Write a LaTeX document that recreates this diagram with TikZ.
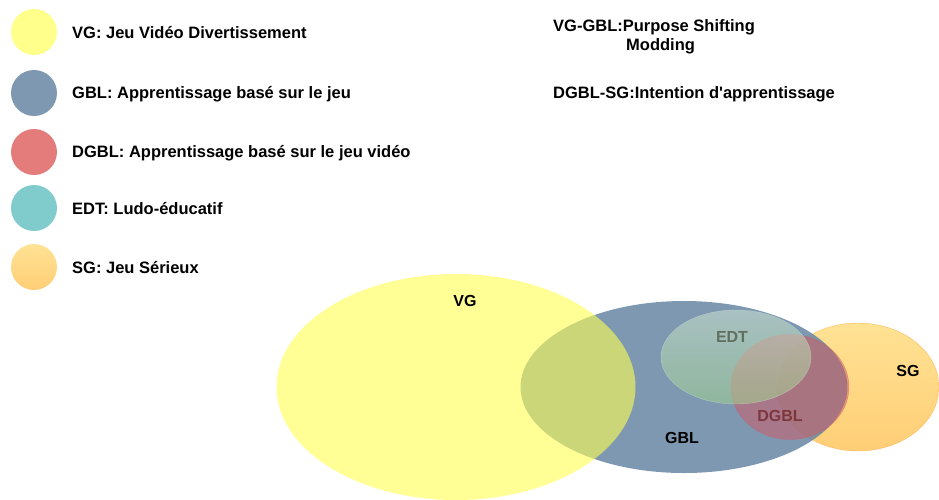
\documentclass[tikz,border=0pt]{standalone}
\usepackage{fontspec}
\setmainfont{Liberation Sans}
\usetikzlibrary{shapes.geometric}
\definecolor{cvg}{RGB}{255,255,140}
\definecolor{cgbl}{RGB}{126,152,178}
\definecolor{cdgbl}{RGB}{228,124,124}
\definecolor{cedt}{RGB}{128,204,204}
\definecolor{csg}{RGB}{255,215,130}
\definecolor{svg}{RGB}{255,255,80}
\definecolor{sgbl}{RGB}{103,134,164}
\definecolor{sdgbl}{RGB}{215,85,95}
\definecolor{sedtt}{RGB}{210,230,210}
\definecolor{sedtb}{RGB}{160,212,140}
\definecolor{ssgt}{RGB}{255,226,148}
\definecolor{ssgb}{RGB}{255,206,118}
\definecolor{tedt}{RGB}{95,112,95}
\definecolor{tdgbl}{RGB}{125,55,60}
\tikzset{
  legdot/.style={circle, minimum size=46pt, inner sep=0pt},
  legtxt/.style={anchor=west, inner sep=0pt, font=\fontsize{16.5}{18}\selectfont\bfseries},
  lbl/.style={inner sep=0pt, font=\fontsize{16}{18}\selectfont\bfseries},
  blob/.style={ellipse, inner sep=0pt}
}
\begin{document}
\begin{tikzpicture}[x=1pt,y=-1pt]
\useasboundingbox (0,0) rectangle (939,499);
% legend
\node[legdot, fill=cvg] (d1) at (34,32) {};
\node[legdot, fill=cgbl] (d2) at (34,93) {};
\node[legdot, fill=cdgbl] (d3) at (34,152) {};
\node[legdot, fill=cedt] (d4) at (34,208) {};
\node[legdot, top color=ssgt, bottom color=ssgb] (d5) at (34,267) {};
\node[legtxt] (t1) at (72,33) {VG: Jeu Vidéo Divertissement};
\node[legtxt] (t2) at (72,94) {GBL: Apprentissage basé sur le jeu};
\node[legtxt] (t3) at (72,153) {DGBL: Apprentissage basé sur le jeu vidéo};
\node[legtxt] (t4) at (72,209) {EDT: Ludo-éducatif};
\node[legtxt] (t5) at (72,268) {SG: Jeu Sérieux};
% notes
\node[legtxt] (n1) at (553,27) {VG-GBL:Purpose Shifting};
\node[legtxt] (n2) at (626,46) {Modding};
\node[legtxt] (n3) at (553,94) {DGBL-SG:Intention d\textquotesingle apprentissage};
% sets
\node[blob, minimum width=162pt, minimum height=128pt, top color=ssgt, bottom color=ssgb, draw=orange!60!ssgb, draw opacity=0.6] (sg) at (858,387) {};
\node[blob, minimum width=327pt, minimum height=172pt, fill=sgbl, fill opacity=0.85, draw=none] (gbl) at (684,387) {};
\node[blob, minimum width=359pt, minimum height=226pt, fill=svg, fill opacity=0.6, draw=none] (vg) at (456,387) {};
\node[blob, minimum width=118pt, minimum height=105pt, fill=sdgbl, fill opacity=0.48, draw=sdgbl, draw opacity=0.5] (dgbl) at (790,387) {};
\node[blob, minimum width=150pt, minimum height=94pt, top color=sedtt, bottom color=sedtb, fill opacity=0.52, draw=sedtt, draw opacity=0.5] (edt) at (736,357) {};
% labels
\node[lbl] (lvg) at (465,301) {VG};
\node[lbl] (lgbl) at (682,438) {GBL};
\node[lbl, text=tedt] (ledt) at (732,337) {EDT};
\node[lbl, text=tdgbl] (ldgbl) at (780,416) {DGBL};
\node[lbl] (lsg) at (908,371) {SG};
\end{tikzpicture}
\end{document}
